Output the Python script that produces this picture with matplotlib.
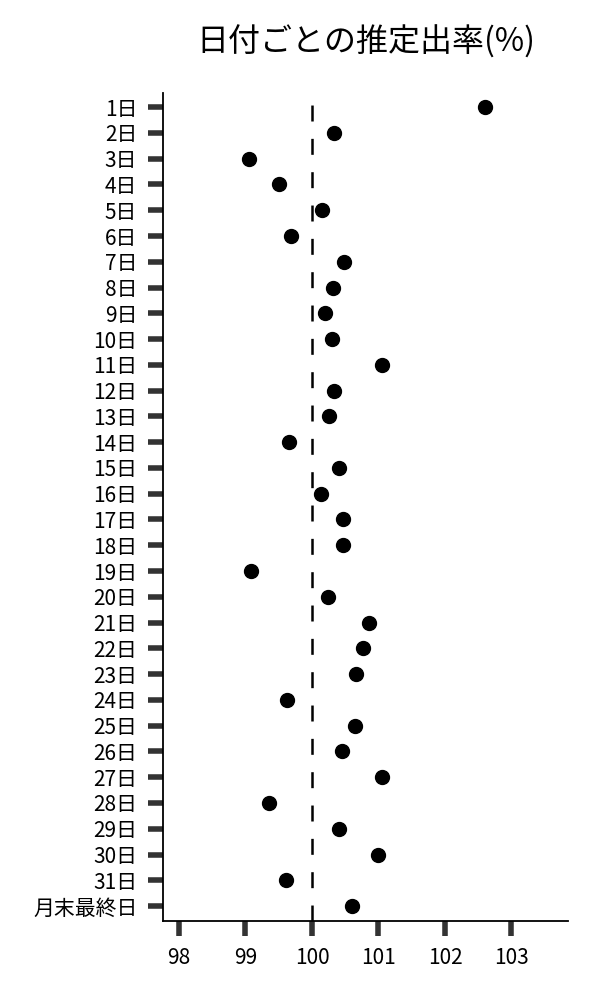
import matplotlib
matplotlib.use("Agg")
import matplotlib.pyplot as plt

plt.rcParams['font.family'] = ['Noto Sans CJK JP', 'DejaVu Sans']
plt.rcParams['lines.scale_dashes'] = False

days = [f"{i}日" for i in range(1, 32)] + ["月末最終日"]
rates = [102.60, 100.33, 99.05, 99.51, 100.15, 99.68, 100.48, 100.32, 100.19, 100.30,
         101.06, 100.33, 100.25, 99.66, 100.41, 100.14, 100.47, 100.46, 99.09, 100.24,
         100.86, 100.76, 100.66, 99.62, 100.65, 100.45, 101.05, 99.36, 100.41, 101.00,
         99.61, 100.60]
xticks = [98, 99, 100, 101, 102, 103]
reference = 100
title = "日付ごとの推定出率(%)"

fig = plt.figure(figsize=(6, 10), dpi=100)
ax = fig.add_axes([0.2717, 0.079, 0.675, 0.828])

ypos = list(range(len(days)))
ax.plot(rates, ypos, 'o', color='black', markersize=10, linestyle='none', zorder=3)
ax.axvline(reference, color='black', linestyle=(0, (11.5, 12.5)), linewidth=1.8, zorder=2)

ax.set_yticks(ypos)
ax.set_yticklabels(days, fontsize=15)
ax.set_ylim(len(days) - 1 + 0.58, -0.55)
ax.set_xticks(xticks)
ax.set_xticklabels([str(x) for x in xticks], fontsize=15)
ax.set_xlim(97.76, 103.85)

for s in ['top', 'right']:
    ax.spines[s].set_visible(False)
for s in ['left', 'bottom']:
    ax.spines[s].set_linewidth(1.3)
    ax.spines[s].set_color('black')

ax.tick_params(axis='y', length=10.5, width=4, color='#333333', pad=8)
ax.tick_params(axis='x', length=10.5, width=4, color='#333333', pad=8)

fig.text(0.61, 0.958, title, fontsize=23, ha='center', va='center')

fig.savefig("out.png", dpi=100)
